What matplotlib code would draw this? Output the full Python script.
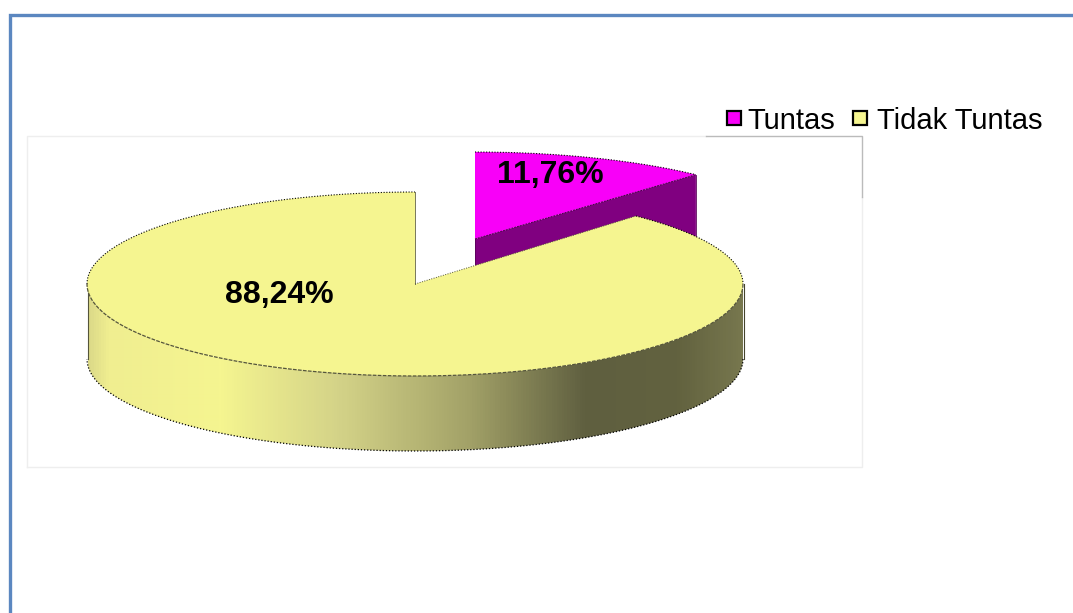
import numpy as np
import matplotlib
matplotlib.use("Agg")
import matplotlib.pyplot as plt
from matplotlib.colors import LinearSegmentedColormap
from matplotlib.patches import Polygon

plt.rcParams['font.family'] = ['Liberation Sans', 'DejaVu Sans']

labels = ["Tuntas", "Tidak Tuntas"]
shares = [11.76, 88.24]
label_text = ["11,76%", "88,24%"]

W, H = 1073, 613
fig = plt.figure(figsize=(W / 100, H / 100), dpi=100)
ax = fig.add_axes([0, 0, 1, 1])
ax.set_xlim(0, W)
ax.set_ylim(H, 0)
ax.axis("off")

# frame around the picture
ax.plot([10, 10, W], [H, 15, 15], color="#5b87c0", lw=2.4, solid_joinstyle="miter")

# chart area
ax.plot([27, 27, 706], [467, 136, 136], color="#eeeeee", lw=1)
ax.plot([27, 862, 862], [467, 467, 197], color="#eeeeee", lw=1)
ax.plot([706, 862, 862], [136, 136, 197], color="#bbbbbb", lw=1)


def arc(cx, cy, rx, ry, a0, a1, n=200):
    # angles in percent of the pie, clockwise from 12 o'clock
    t = np.linspace(a0, a1, n) * 2 * np.pi / 100
    return cx + rx * np.sin(t), cy - ry * np.cos(t)


edge = shares[0]
depth = 75
rx, ry = 328, 92
cx, cy = 415, 284

# small slice, pulled out of the pie
px, py = 475, 239
prx, pry = 328, 87
ax1, ay1 = arc(px, py, prx, pry, 0, edge)
ax.fill([px, ax1[-1], ax1[-1], px], [py, ay1[-1], ay1[-1] + depth, py + depth],
        color="#800080", lw=0)
ax.plot([px, px], [py, py + depth], color="#5a005a", lw=0.6)
ax.plot([ax1[-1], ax1[-1]], [ay1[-1], ay1[-1] + depth], color="#5a005a", lw=0.6)
ax.fill(np.r_[px, ax1], np.r_[py, ay1], color="#f800f8", lw=0)
ax.plot(ax1, ay1, color="black", lw=0.8, ls=(0, (1, 1.5)))
ax.plot([px, ax1[-1]], [py, ay1[-1]], color="#400040", lw=0.7, ls=(0, (2, 1)))

# side of the big slice
sx, sy = arc(cx, cy, rx, ry, 25, 75)
side_x = np.r_[sx, sx[::-1]]
side_y = np.r_[sy, sy[::-1] + depth]
side = Polygon(np.c_[side_x, side_y], closed=True, fc="none", ec="none", transform=ax.transData)
ax.add_patch(side)
cmap = LinearSegmentedColormap.from_list("side", [
    (0.0, "#77774e"), (0.10, "#62623f"), (0.24, "#5f5f40"), (0.42, "#a3a268"),
    (0.62, "#d4d388"), (0.80, "#f5f590"), (0.97, "#f0ee90"), (1.0, "#dcda88")])
grad = np.linspace(1, 0, 656).reshape(1, -1)
im = ax.imshow(grad, cmap=cmap, extent=[88, 744, cy + ry + depth, cy], aspect="auto",
               interpolation="bilinear", zorder=2)
ax.set_xlim(0, W)
ax.set_ylim(H, 0)
im.set_clip_path(side)
bx, by = arc(cx, cy + depth, rx, ry, 25, 75)
ax.plot(bx, by, color="black", lw=0.9, ls=(0, (1, 1.5)), zorder=3)
ax.plot([88, 88], [cy, cy + depth], color="#55553a", lw=0.8, zorder=3)
ax.plot([744, 744], [cy, cy + depth], color="#44442c", lw=0.8, zorder=3)

# top of the big slice
tx, ty = arc(cx, cy, rx, ry, edge, 100, n=400)
ax.fill(np.r_[cx, tx], np.r_[cy, ty], color="#f5f590", lw=0, zorder=4)
ux, uy = arc(cx, cy, rx, ry, 25, 75)
ax.plot(ux, uy, color="#55553a", lw=0.9, ls=(0, (3, 1)), zorder=5)
b1x, b1y = arc(cx, cy, rx, ry, edge, 25)
b2x, b2y = arc(cx, cy, rx, ry, 75, 100)
ax.plot(b1x, b1y, color="black", lw=0.8, ls=(0, (1, 1.5)), zorder=5)
ax.plot(b2x, b2y, color="black", lw=0.8, ls=(0, (1, 1.5)), zorder=5)
ax.plot([cx, cx], [cy, cy - ry], color="#77775a", lw=0.7, zorder=5)
ax.plot([cx, tx[0]], [cy, ty[0]], color="#55553a", lw=0.7, ls=(0, (1, 1.5)), zorder=5)

# value labels
ax.text(550, 175, label_text[0], fontsize=23, fontweight="bold", ha="center", va="center", zorder=6)
ax.text(279, 295, label_text[1], fontsize=23, fontweight="bold", ha="center", va="center", zorder=6)

# legend
for x_box, x_txt, name, col in zip([734, 860], [747, 877], labels, ["#f800f8", "#f5f590"]):
    ax.plot([x_box], [118], marker="s", ms=9.5, mfc=col, mec="black", mew=1.6, zorder=6)
    ax.text(x_txt, 121, name, fontsize=21, ha="left", va="center", zorder=6)

fig.savefig("out.png", dpi=100)
